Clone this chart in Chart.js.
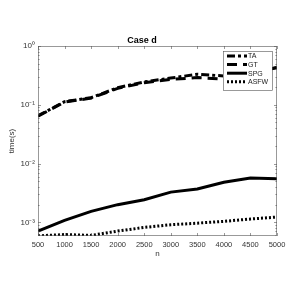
<!DOCTYPE html>
<html>
<head>
<meta charset="utf-8">
<script src="https://cdn.jsdelivr.net/npm/chart.js@4/dist/chart.umd.min.js"></script>
<style>
  html, body { margin: 0; padding: 0; background: #fff; }
  #wrap { width: 304px; height: 290px; }
</style>
</head>
<body>
<div id="wrap"><canvas id="c"></canvas></div>
<script>
// problem sizes
var sizes = [500, 1000, 1500, 2000, 2500, 3000, 3500, 4000, 4500, 5000];
// run times (s)
var taTime   = [0.065, 0.113, 0.132, 0.195, 0.245, 0.285, 0.330, 0.310, 0.350, 0.430];
var gtTime   = [0.064, 0.111, 0.130, 0.190, 0.238, 0.270, 0.290, 0.275, 0.340, 0.430];
var spgTime  = [0.00071, 0.00108, 0.00154, 0.0020, 0.00243, 0.00327, 0.0037, 0.0048, 0.0057, 0.0055];
var asfwTime = [0.00059, 0.00062, 0.00060, 0.00071, 0.00082, 0.00091, 0.00097, 0.00104, 0.00114, 0.00123];
var seriesNames = ["TA", "GT", "SPG", "ASFW"];
var xTicks = [500, 1000, 1500, 2000, 2500, 3000, 3500, 4000, 4500, 5000];
var yMajor = [1e-3, 1e-2, 1e-1, 1];
var yLabels = ["10\u207B\u00B3", "10\u207B\u00B2", "10\u207B\u00B9", "10\u2070"];

var dashes = [[8, 3, 3, 3], [10, 6], [], [2, 2]];
var allY = [taTime, gtTime, spgTime, asfwTime];

function pts(ys) {
	var out = [];
	for (var i = 0; i < sizes.length; i++) {
		out.push({x: sizes[i], y: ys[i]});
	}
	return out;
}

var datasets = [];
for (var s = 0; s < seriesNames.length; s++) {
	datasets.push({
		label: seriesNames[s],
		data: pts(allY[s]),
		borderColor: "#000",
		borderWidth: 3,
		borderDash: dashes[s],
		pointRadius: 0,
		tension: 0,
		fill: false
	});
}

// minor + major tick positions for log y
var yTickVals = [];
for (var e = -4; e <= 0; e++) {
	for (var m = 1; m <= 9; m++) {
		var v = m * Math.pow(10, e);
		if (v >= 5.86e-4 && v <= 1.0000001) yTickVals.push(v);
	}
}

var frame = {
	id: "frame",
	afterDatasetsDraw: function(chart) {
		var ctx = chart.ctx, a = chart.chartArea;
		var xs = chart.scales.x, ys = chart.scales.y;
		ctx.save();
		ctx.strokeStyle = "#555";
		ctx.lineWidth = 0.6;
		ctx.strokeRect(a.left + 0.5, a.top + 0.5, a.right - a.left - 1, a.bottom - a.top - 1);
		ctx.beginPath();
		xTicks.forEach(function(t) {
			var px = Math.round(xs.getPixelForValue(t)) + 0.5;
			ctx.moveTo(px, a.bottom); ctx.lineTo(px, a.bottom - 3);
			ctx.moveTo(px, a.top); ctx.lineTo(px, a.top + 3);
		});
		yTickVals.forEach(function(t) {
			var py = Math.round(ys.getPixelForValue(t)) + 0.5;
			var major = Math.abs(Math.log10(t) - Math.round(Math.log10(t))) < 1e-9;
			var len = major ? 3 : 1.6;
			ctx.moveTo(a.left, py); ctx.lineTo(a.left + len, py);
			ctx.moveTo(a.right, py); ctx.lineTo(a.right - len, py);
		});
		ctx.stroke();

		// legend box, top right inside axes
		var bx = 223, by = 51, bw = 49, bh = 39;
		ctx.fillStyle = "#fff";
		ctx.fillRect(bx, by, bw, bh);
		ctx.strokeStyle = "#555";
		ctx.lineWidth = 0.6;
		ctx.strokeRect(bx + 0.5, by + 0.5, bw, bh);
		ctx.font = "7px 'Liberation Sans', Arial, sans-serif";
		ctx.textBaseline = "middle";
		ctx.textAlign = "left";
		for (var i = 0; i < seriesNames.length; i++) {
			var yy = by + 5 + i * 8.6;
			ctx.strokeStyle = "#000";
			ctx.lineWidth = 3;
			ctx.setLineDash(dashes[i]);
			ctx.beginPath();
			ctx.moveTo(bx + 4, yy); ctx.lineTo(bx + 24, yy);
			ctx.stroke();
			ctx.setLineDash([]);
			ctx.fillStyle = "#222";
			ctx.fillText(seriesNames[i], bx + 25, yy + 0.5);
		}
		ctx.restore();
	}
};

new Chart(document.getElementById("c"), {
	type: "line",
	data: {datasets: datasets},
	options: {
		responsive: true,
		maintainAspectRatio: false,
		animation: false,
		layout: {padding: {left: 7, right: 27, top: 0, bottom: 28}},
		plugins: {
			legend: {display: false},
			tooltip: {enabled: false},
			title: {
				display: true,
				text: "Case d",
				color: "#000",
				font: {family: "'Liberation Sans', Arial, sans-serif", size: 9, weight: "bold"},
				padding: {top: 35, bottom: 0.2}
			}
		},
		scales: {
			x: {
				type: "linear",
				min: 500,
				max: 5000,
				afterBuildTicks: function(scale) {
					scale.ticks = xTicks.map(function(v) { return {value: v}; });
				},
				afterFit: function(scale) { scale.height = 26; },
				grid: {display: false, drawTicks: false},
				border: {display: false},
				ticks: {
					color: "#333",
					padding: 4,
					maxRotation: 0,
					font: {family: "'Liberation Sans', Arial, sans-serif", size: 7.5},
					callback: function(v) { return String(v); }
				},
				title: {
					display: true,
					text: "n",
					color: "#333",
					padding: {top: 0, bottom: 3},
					font: {family: "'Liberation Sans', Arial, sans-serif", size: 8}
				}
			},
			y: {
				type: "logarithmic",
				min: 5.86e-4,
				max: 1,
				afterBuildTicks: function(scale) {
					scale.ticks = yMajor.map(function(v) { return {value: v}; });
				},
				afterFit: function(scale) { scale.width = 31; },
				grid: {display: false, drawTicks: false},
				border: {display: false},
				ticks: {
					color: "#333",
					padding: 3,
					font: {family: "'Liberation Sans', Arial, sans-serif", size: 8},
					callback: function(v) {
						var k = yMajor.indexOf(v);
						return k >= 0 ? yLabels[k] : "";
					}
				},
				title: {
					display: true,
					text: "time(s)",
					color: "#333",
					padding: 0,
					font: {family: "'Liberation Sans', Arial, sans-serif", size: 8}
				}
			}
		}
	},
	plugins: [frame]
});
</script>
</body>
</html>
